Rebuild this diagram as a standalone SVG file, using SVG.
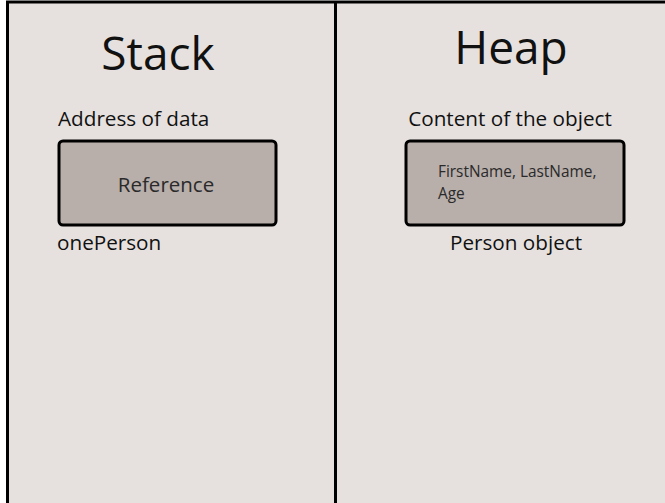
<svg xmlns="http://www.w3.org/2000/svg" width="665" height="503" viewBox="0 0 665 503">
<style>
.t{font-family:"Open Sans","Noto Sans","DejaVu Sans",sans-serif;fill:#111}
.h{font-size:46px}
.l{font-size:20.7px}
.b{font-size:20.5px;fill:#2a2a2a}
.s{font-size:15.4px;fill:#2a2a2a}
.box{fill:#b8aeaa;stroke:#000;stroke-width:3}
</style>
<rect x="0" y="0" width="665" height="503" fill="#ffffff"/>
<rect x="7.5" y="2" width="670" height="520" fill="#e6e1de" stroke="#000" stroke-width="3"/>
<g id="connectors">
<line x1="335.5" y1="2" x2="335.5" y2="503" stroke="#000" stroke-width="3"/>
</g>
<g id="stack">
<text class="t h" x="158" y="70" text-anchor="middle">Stack</text>
<text class="t l" x="58" y="126">Address of data</text>
<rect class="box" x="59" y="141" width="217" height="84" rx="4"/>
<text class="t b" x="166" y="192" text-anchor="middle">Reference</text>
<text class="t l" x="57" y="250">onePerson</text>
</g>
<g id="heap">
<text class="t h" x="511" y="64" text-anchor="middle">Heap</text>
<text class="t l" x="510" y="126" text-anchor="middle">Content of the object</text>
<rect class="box" x="406" y="141" width="218" height="84" rx="4"/>
<text class="t s" x="438" y="177">FirstName, LastName,</text>
<text class="t s" x="438" y="199">Age</text>
<text class="t l" x="516" y="250" text-anchor="middle">Person object</text>
</g>
</svg>
